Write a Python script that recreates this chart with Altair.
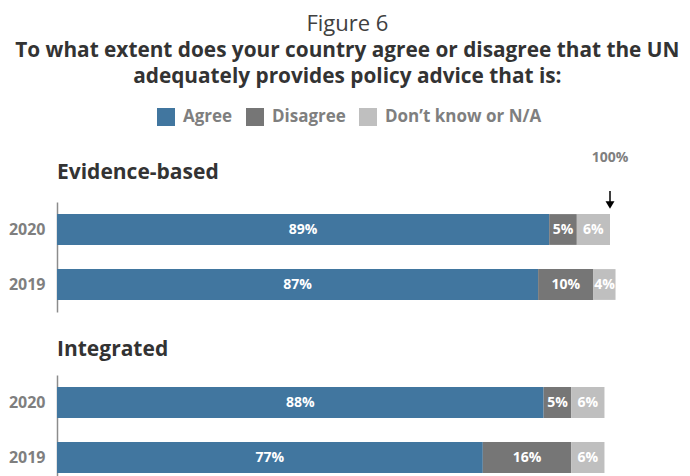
import altair as alt
import pandas as pd

sections = ["Evidence-based", "Evidence-based", "Integrated", "Integrated"]
years = ["2020", "2019", "2020", "2019"]
agree = [89, 87, 88, 77]
disagree = [5, 10, 5, 16]
dontknow = [6, 4, 6, 6]
categories = ["Agree", "Disagree", "Don\u2019t know or N/A"]
colors = ["#41769f", "#767676", "#bfbfbf"]
marker_value = [100]
marker_label = ["100%"]

rows = []
for s, y, a, d, k in zip(sections, years, agree, disagree, dontknow):
    for i, (c, v) in enumerate(zip(categories, [a, d, k])):
        rows.append({"section": s, "year": y, "cat": c, "order": i, "value": v,
                     "label": f"{v}%"})
df = pd.DataFrame(rows)
marker_df = pd.DataFrame({"x": marker_value, "label": marker_label})

FONT = "Open Sans"
xscale = alt.Scale(domain=[0, 100], nice=False, zero=True)


def panel(sec, with_marker, header_y):
    base = (
        alt.Chart(df)
        .transform_filter(alt.datum.section == sec)
        .transform_stack(stack="value", groupby=["section", "year"],
                         as_=["start", "end"], sort=[alt.SortField("order")])
        .transform_calculate(mid="(datum.start + datum.end) / 2")
    )
    yenc = alt.Y(
        "year:N", sort=["2020", "2019"], title=None,
        scale=alt.Scale(paddingInner=0.44, paddingOuter=0.22),
        axis=alt.Axis(ticks=False, labelFont=FONT, labelFontSize=16,
                      labelFontWeight="bold", labelColor="#7f7f7f",
                      labelPadding=12, domainColor="#8c8c8c", domainWidth=1.5),
    )
    bars = base.mark_bar().encode(
        x=alt.X("start:Q", scale=xscale, axis=None),
        x2="end:Q",
        y=yenc,
        color=alt.Color(
            "cat:N", scale=alt.Scale(domain=categories, range=colors),
            legend=alt.Legend(
                title=None, orient="none", direction="horizontal",
                legendX=100, legendY=-94, symbolType="square", symbolSize=324,
                symbolStrokeWidth=0, labelFont=FONT, labelFontSize=17,
                labelFontWeight="bold", labelColor="#7f7f7f", columnPadding=13,
                labelOffset=8,
            ),
        ),
    )
    text = base.mark_text(font=FONT, fontSize=14, fontWeight="bold",
                          color="white").encode(
        x=alt.X("mid:Q", scale=xscale, axis=None),
        y=yenc,
        text="label:N",
    )
    header = alt.Chart(pd.DataFrame({"section": [sec]})).mark_text(
        font=FONT, fontSize=21, fontWeight="bold", color="#333333",
        align="left", baseline="middle").encode(
        x=alt.value(0), y=alt.value(header_y), text="section:N")
    layers = [bars, text, header]
    if with_marker:
        m = alt.Chart(marker_df)
        layers.append(m.mark_rule(color="black", strokeWidth=1.5).encode(
            x=alt.X("x:Q", scale=xscale, axis=None),
            y=alt.value(-11), y2=alt.value(3)))
        layers.append(m.mark_point(shape="triangle-down", filled=True,
                                   color="black", size=80, opacity=1).encode(
            x=alt.X("x:Q", scale=xscale, axis=None), y=alt.value(3)))
        layers.append(m.mark_text(font=FONT, fontSize=14, fontWeight="bold",
                                  color="#7f7f7f").encode(
            x=alt.X("x:Q", scale=xscale, axis=None), y=alt.value(-44),
            text="label:N"))
    return alt.layer(*layers).properties(width=553, height=110)


chart = alt.vconcat(panel("Evidence-based", True, -29),
                    panel("Integrated", False, -25),
                    spacing=27).properties(
    title=alt.Title(
        "Figure 6",
        subtitle=["To what extent does your country agree or disagree that the UN",
                  "adequately provides policy advice that is:"],
        anchor="middle", font=FONT, fontSize=22, fontWeight="normal",
        color="#404040", subtitleFont=FONT, subtitleFontSize=20.8,
        subtitleFontWeight="bold", subtitleColor="#333333",
        subtitleLineHeight=26, subtitlePadding=5, offset=20, dx=29,
    ),
    padding={"left": 0, "top": 5, "right": 0, "bottom": 0},
).configure_view(stroke=None)

chart.save("out.html", embed_options={"renderer": "svg", "actions": False})
